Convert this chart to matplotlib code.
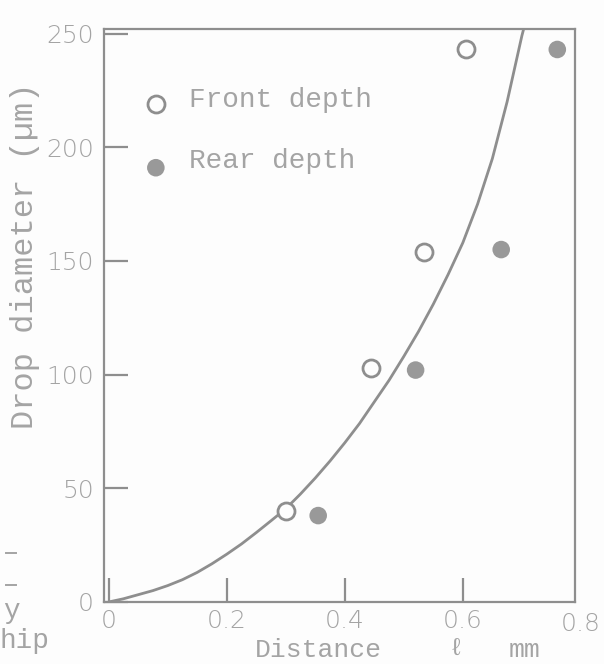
import numpy as np
import matplotlib
matplotlib.use('Agg')
from matplotlib import pyplot as plt
from matplotlib import transforms

# Data
front_x = [0.30, 0.445, 0.535, 0.605]    # mm
front_y = [40, 103, 154, 243]            # um
rear_x = [0.355, 0.52, 0.665, 0.76]      # mm
rear_y = [38, 102, 155, 243]             # um

# Fitted curve drawn on the figure
curve_x = [0, 0.025, 0.05, 0.075, 0.1, 0.125, 0.15, 0.175, 0.2, 0.225, 0.25,
           0.275, 0.3, 0.325, 0.35, 0.375, 0.4, 0.425, 0.45, 0.475, 0.5,
           0.525, 0.55, 0.575, 0.6, 0.625, 0.65, 0.675, 0.7, 0.703]
curve_y = [0, 1.4, 3.2, 5, 7.2, 9.8, 13, 16.8, 21, 25.5, 30.5,
           35.7, 41, 47.5, 54.5, 62, 70, 78.5, 88, 97.5, 108,
           119, 131, 144, 158, 175, 195, 220, 249, 252]

x_ticks = [0, 0.2, 0.4, 0.6]
x_labels = ['0', '0.2', '0.4', '0.6']
y_ticks = [0, 50, 100, 150, 200, 250]
y_labels = ['0', '50', '100', '150', '200', '250']

ink = '#8e8e8e'
text_col = '#a4a4a4'
mono = ['Liberation Mono', 'DejaVu Sans Mono']

fig = plt.figure(figsize=(6.04, 6.64), dpi=100)
fig.patch.set_facecolor('#fdfdfd')
ax = fig.add_axes([0.172, 0.0934, 0.780, 0.8629])
ax.set_facecolor('#fdfdfd')

ax.plot(curve_x, curve_y, '-', color=ink, lw=2.0, solid_joinstyle='round',
        solid_capstyle='round', zorder=2)
ax.scatter(front_x, front_y, s=150, facecolors='#fdfdfd', edgecolors=ink,
           linewidths=2.0, zorder=3)
ax.scatter(rear_x, rear_y, s=160, color='#999999', edgecolors='none', zorder=3)

ax.set_xlim(-0.008, 0.79)
ax.set_ylim(0, 252)

for s in ax.spines.values():
    s.set_color(ink)
    s.set_linewidth(1.6)

ax.set_xticks(x_ticks)
ax.set_xticklabels(x_labels)
ax.set_yticks(y_ticks)
ax.set_yticklabels(y_labels)
ax.tick_params(direction='in', length=17, width=1.6, color=ink,
               labelsize=18, labelcolor=text_col)
ax.tick_params(axis='x', pad=5)
ax.tick_params(axis='y', pad=7)
for lab in ax.get_xticklabels() + ax.get_yticklabels():
    lab.set_family('DejaVu Sans')
    lab.set_fontweight('light')

# 0.8 label sits under the right spine
ax.text(0.8, -0.018, '0.8', transform=transforms.blended_transform_factory(ax.transData, ax.transAxes),
        ha='center', va='top', fontsize=18, color=text_col, family='DejaVu Sans',
        fontweight='light', clip_on=False)

# Legend
ax.scatter([0.08], [219], s=150, facecolors='#fdfdfd', edgecolors=ink, linewidths=2.0)
ax.scatter([0.08], [191], s=160, color='#999999', edgecolors='none')
ax.text(0.137, 221, 'Front depth', fontsize=20, color=text_col, family=mono, va='center')
ax.text(0.137, 194, 'Rear depth', fontsize=20, color=text_col, family=mono, va='center')

# Axis titles
fig.text(0.042, 0.615, 'Drop diameter (\u00b5m)', rotation=90, ha='center', va='center',
         fontsize=23, color=text_col, family=mono)
fig.text(0.422, 0.021, 'Distance', ha='left', va='center',
         fontsize=19, color=text_col, family=mono)
fig.text(0.755, 0.024, '\u2113', ha='center', va='center',
         fontsize=18, color=text_col, family=mono)
fig.text(0.843, 0.021, 'mm', ha='left', va='center',
         fontsize=19, color=text_col, family=mono)

# Remnants of the neighbouring figure at the left edge
fig.text(0.005, 0.080, 'y', fontsize=20, color=text_col, family=mono, va='center')
fig.text(0.0, 0.034, 'hip', fontsize=20, color=text_col, family=mono, va='center')
for yy in [0.167, 0.119]:
    fig.add_artist(plt.Line2D([0.01, 0.027], [yy, yy], color=text_col, lw=1.4))

plt.savefig('out.png', dpi=100, facecolor=fig.get_facecolor())
